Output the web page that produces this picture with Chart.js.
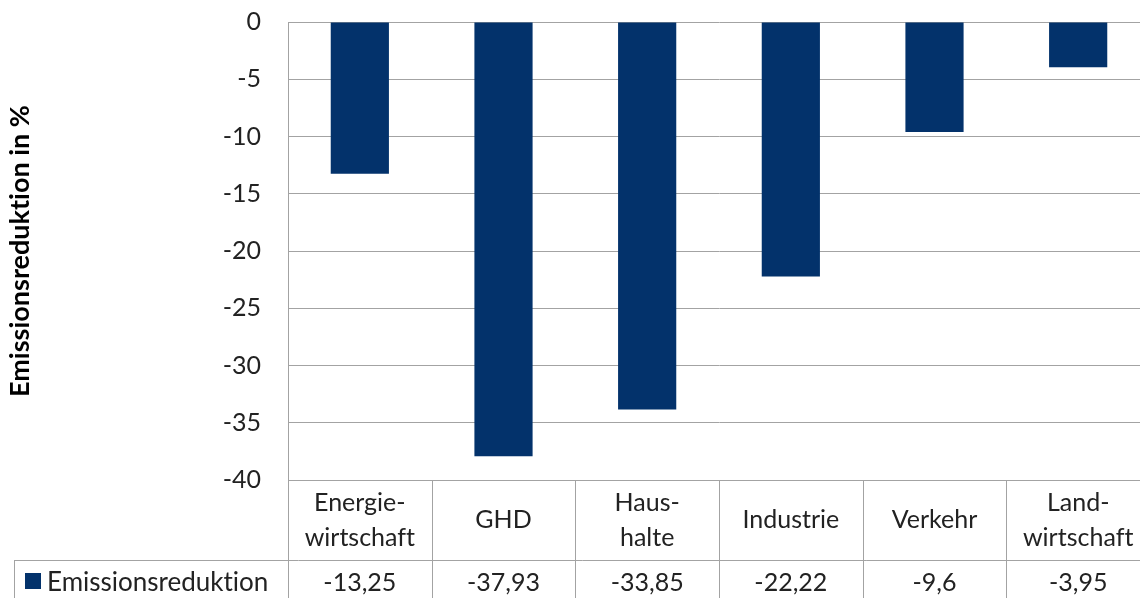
<!DOCTYPE html>
<html>
<head>
<meta charset="utf-8">
<script src="https://cdn.jsdelivr.net/npm/chart.js@4"></script>
<style>
  html, body { margin: 0; padding: 0; background: #fff; overflow: hidden; }
  #wrap { width: 1150px; height: 598px; }
</style>
</head>
<body>
<div id="wrap"><canvas id="chart" width="1150" height="598"></canvas></div>
<script>
const categories = [['Energie-', 'wirtschaft'], ['GHD'], ['Haus-', 'halte'], ['Industrie'], ['Verkehr'], ['Land-', 'wirtschaft']]
const values = [-13.25, -37.93, -33.85, -22.22, -9.6, -3.95]
const seriesName = 'Emissionsreduktion'
const axisTitle = 'Emissionsreduktion in %'
const yMin = -40
const yMax = 0
const yStep = 5

const barColor = '#03326b'
const lineColor = '#a3a3a3'
const textColor = '#222222'
const fontFamily = 'Lato, "Open Sans", sans-serif'

// no "ti" ligatures, Calibri does not have them
const noLigatures = {
    id: 'noLigatures',
    beforeDraw(chart) {
        chart.ctx.textRendering = 'optimizeSpeed'
    }
}

// draws the data table under the plot (category row + value row)
const dataTable = {
    id: 'dataTable',
    afterDraw(chart) {
        const c = chart.ctx
        const x = chart.scales.x
        const area = chart.chartArea
        const top = area.bottom
        const rowY = 560
        const bottom = chart.height
        const n = categories.length
        const step = (area.right - area.left) / n

        c.save()
        c.strokeStyle = lineColor
        c.lineWidth = 1
        c.beginPath()
        // column separators
        for (let i = 0; i <= n; i++) {
            const px = Math.round(area.left + i * step) + 0.5
            c.moveTo(px, top)
            c.lineTo(px, bottom)
        }
        // row line and legend cell border
        c.moveTo(14.5, rowY + 0.5)
        c.lineTo(area.right, rowY + 0.5)
        c.moveTo(14.5, rowY)
        c.lineTo(14.5, bottom)
        c.stroke()

        c.fillStyle = textColor
        c.font = '25px ' + fontFamily
        c.textAlign = 'center'
        c.textBaseline = 'middle'
        const mid = (top + rowY) / 2
        categories.forEach((lines, i) => {
            const cx = x.getPixelForValue(i)
            const y0 = mid - (lines.length - 1) * 35 / 2
            lines.forEach((t, j) => c.fillText(t, cx, y0 + j * 35))
            c.fillText(String(values[i]).replace('.', ','), cx, 583)
        })

        // legend key
        c.fillStyle = barColor
        c.fillRect(25, 573, 16, 16)
        c.fillStyle = textColor
        c.textAlign = 'left'
        c.font = '26px ' + fontFamily
        c.fillText(seriesName, 47, 583)
        c.restore()
    }
}

new Chart(document.getElementById('chart'), {
    type: 'bar',
    data: {
        labels: categories,
        datasets: [{
            label: seriesName,
            data: values,
            backgroundColor: barColor,
            borderWidth: 0,
            categoryPercentage: 1,
            barPercentage: 0.405
        }]
    },
    options: {
        responsive: false,
        animation: false,
        layout: { padding: { top: 22, left: 0, right: 0, bottom: 0 } },
        plugins: {
            legend: { display: false },
            tooltip: { enabled: false }
        },
        scales: {
            x: {
                grid: { display: false },
                border: { display: false },
                ticks: { display: false },
                afterFit(scale) { scale.height = 118 }
            },
            y: {
                min: yMin,
                max: yMax,
                ticks: {
                    stepSize: yStep,
                    padding: 0,
                    color: textColor,
                    font: { family: fontFamily, size: 25 }
                },
                grid: { color: lineColor, drawTicks: true, tickLength: 27, tickColor: 'rgba(0,0,0,0)' },
                border: { display: true, color: lineColor },
                title: {
                    display: true,
                    text: axisTitle,
                    color: '#000',
                    font: { family: fontFamily, size: 27, weight: 'bold' },
                    padding: { top: 4, bottom: 0 }
                },
                afterFit(scale) { scale.width = 288 }
            }
        }
    },
    plugins: [noLigatures, dataTable]
})
</script>
</body>
</html>
